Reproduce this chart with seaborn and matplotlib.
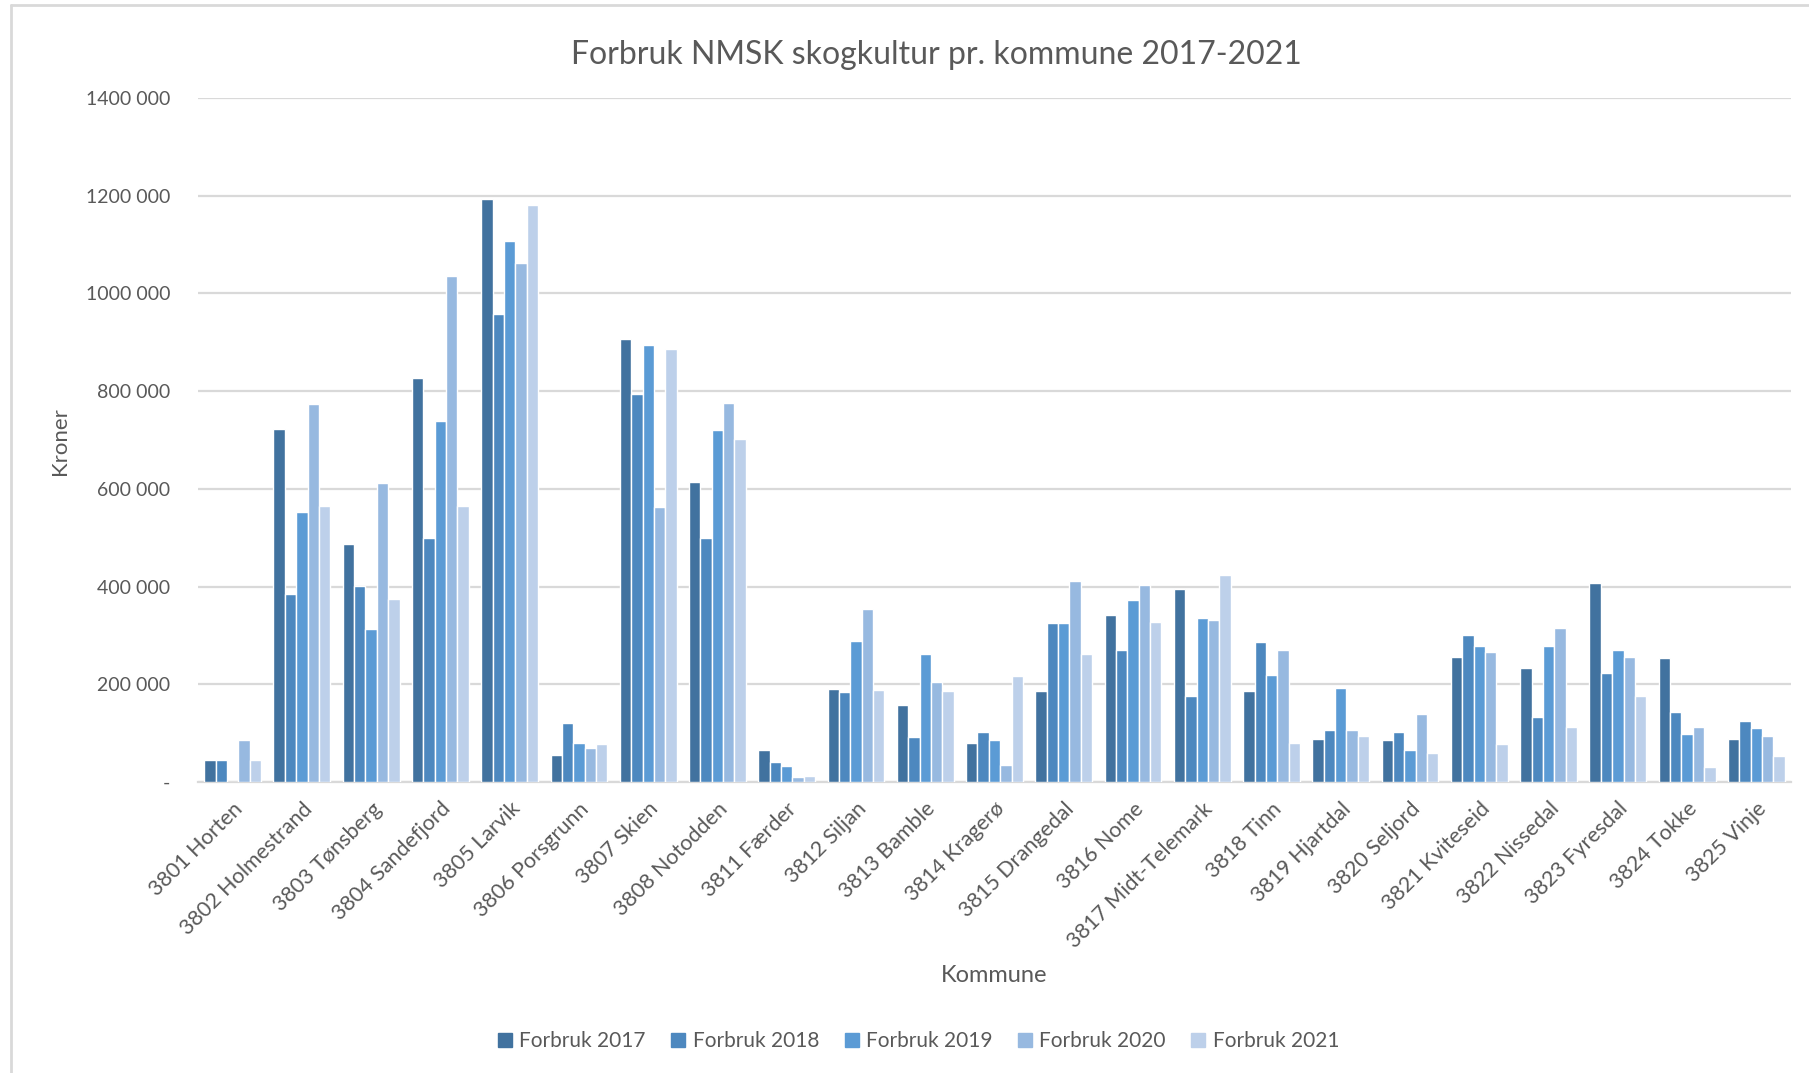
import numpy as np
import pandas as pd
import matplotlib as mpl
import matplotlib.pyplot as plt
from matplotlib.lines import Line2D
import seaborn as sns

sns.set_style('white')
plt.rcParams['font.family'] = ['Lato', 'DejaVu Sans']

kommuner = ['3801 Horten', '3802 Holmestrand', '3803 Tønsberg', '3804 Sandefjord',
            '3805 Larvik', '3806 Porsgrunn', '3807 Skien', '3808 Notodden',
            '3811 Færder', '3812 Siljan', '3813 Bamble', '3814 Kragerø',
            '3815 Drangedal', '3816 Nome', '3817 Midt-Telemark', '3818 Tinn',
            '3819 Hjartdal', '3820 Seljord', '3821 Kviteseid', '3822 Nissedal',
            '3823 Fyresdal', '3824 Tokke', '3825 Vinje']

forbruk_2017 = [46000, 723000, 488000, 827000, 1193000, 55000, 907000, 615000,
                66000, 191000, 157000, 80000, 187000, 341000, 395000, 187000,
                87000, 85000, 256000, 233000, 408000, 253000, 87000]
forbruk_2018 = [46000, 384000, 401000, 499000, 957000, 120000, 794000, 499000,
                41000, 185000, 93000, 102000, 326000, 271000, 177000, 286000,
                107000, 102000, 300000, 134000, 223000, 144000, 124000]
forbruk_2019 = [0, 552000, 313000, 738000, 1108000, 79000, 895000, 721000,
                33000, 288000, 261000, 85000, 326000, 373000, 335000, 219000,
                192000, 65000, 278000, 278000, 271000, 98000, 110000]
forbruk_2020 = [85000, 773000, 611000, 1036000, 1063000, 70000, 562000, 775000,
                10000, 355000, 204000, 35000, 412000, 403000, 332000, 271000,
                107000, 139000, 266000, 315000, 256000, 113000, 95000]
forbruk_2021 = [46000, 564000, 375000, 564000, 1182000, 78000, 887000, 703000,
                12500, 189000, 186000, 216000, 261000, 328000, 423000, 80000,
                95000, 60000, 78000, 113000, 177000, 30000, 53000]

serier = ['Forbruk 2017', 'Forbruk 2018', 'Forbruk 2019', 'Forbruk 2020', 'Forbruk 2021']
farger = ['#41729F', '#4D88BF', '#5B9BD5', '#97B9E0', '#BDD0EA']
yticks = [0, 200000, 400000, 600000, 800000, 1000000, 1200000, 1400000]
ytick_labels = ['-', '200 000', '400 000', '600 000', '800 000', '1000 000', '1200 000', '1400 000']

df = pd.DataFrame({'Kommune': kommuner, 'Forbruk 2017': forbruk_2017,
                   'Forbruk 2018': forbruk_2018, 'Forbruk 2019': forbruk_2019,
                   'Forbruk 2020': forbruk_2020, 'Forbruk 2021': forbruk_2021})
long = df.melt(id_vars='Kommune', var_name='Serie', value_name='Kroner')

W, H = 1809, 1073
fig = plt.figure(figsize=(W / 100, H / 100), dpi=100)
ax = fig.add_axes([198 / W, 1 - 782 / H, (1791 - 198) / W, (782 - 98) / H])

grey = '#595959'
grid = '#D9D9D9'

sns.barplot(data=long, x='Kommune', y='Kroner', hue='Serie', hue_order=serier,
            palette=farger, width=0.82, edgecolor='white', linewidth=1.0,
            saturation=1, legend=False, ax=ax, zorder=3)

ax.set_ylim(0, 1400000)
ax.set_xlim(-0.5, len(kommuner) - 0.5)
ax.set_yticks(yticks)
ax.set_yticklabels(ytick_labels)
ax.yaxis.grid(True, color=grid, linewidth=1.6, zorder=0)
ax.set_axisbelow(True)
for s in ['top', 'right', 'left']:
    ax.spines[s].set_visible(False)
ax.spines['bottom'].set_color(grid)
ax.spines['bottom'].set_linewidth(1.6)
ax.tick_params(axis='both', length=0, colors=grey)
ax.tick_params(axis='y', pad=20, labelsize=14)
ax.tick_params(axis='x', pad=12, labelsize=15.5)
plt.setp(ax.get_xticklabels(), rotation=45, ha='right', rotation_mode='anchor')
ax.set_xlabel('')
ax.set_ylabel('')

fig.text(936 / W, 1 - 55 / H, 'Forbruk NMSK skogkultur pr. kommune 2017-2021',
         ha='center', va='center', fontsize=23, color=grey)
fig.text(60 / W, 1 - 441 / H, 'Kroner', rotation=90, ha='center', va='center',
         fontsize=16, color=grey)
fig.text(994 / W, 1 - 975 / H, 'Kommune', ha='center', va='center',
         fontsize=17, color=grey)

handles = [Line2D([0], [0], marker='s', linestyle='', markersize=10,
                  markerfacecolor=c, markeredgecolor=c) for c in farger]
fig.legend(handles, serier, loc='center', bbox_to_anchor=(919 / W, 1 - 1041 / H),
           ncol=5, frameon=False, fontsize=15, handlelength=0.6,
           handletextpad=0.4, columnspacing=1.25, labelcolor=grey)

# chart area border (only left and top visible in the screenshot)
fig.add_artist(Line2D([11 / W, 11 / W], [0, 1 - 5 / H], transform=fig.transFigure,
                      color=grid, linewidth=2))
fig.add_artist(Line2D([11 / W, 1], [1 - 5 / H, 1 - 5 / H], transform=fig.transFigure,
                      color=grid, linewidth=2))

fig.savefig('out.png', dpi=100, facecolor='white')
